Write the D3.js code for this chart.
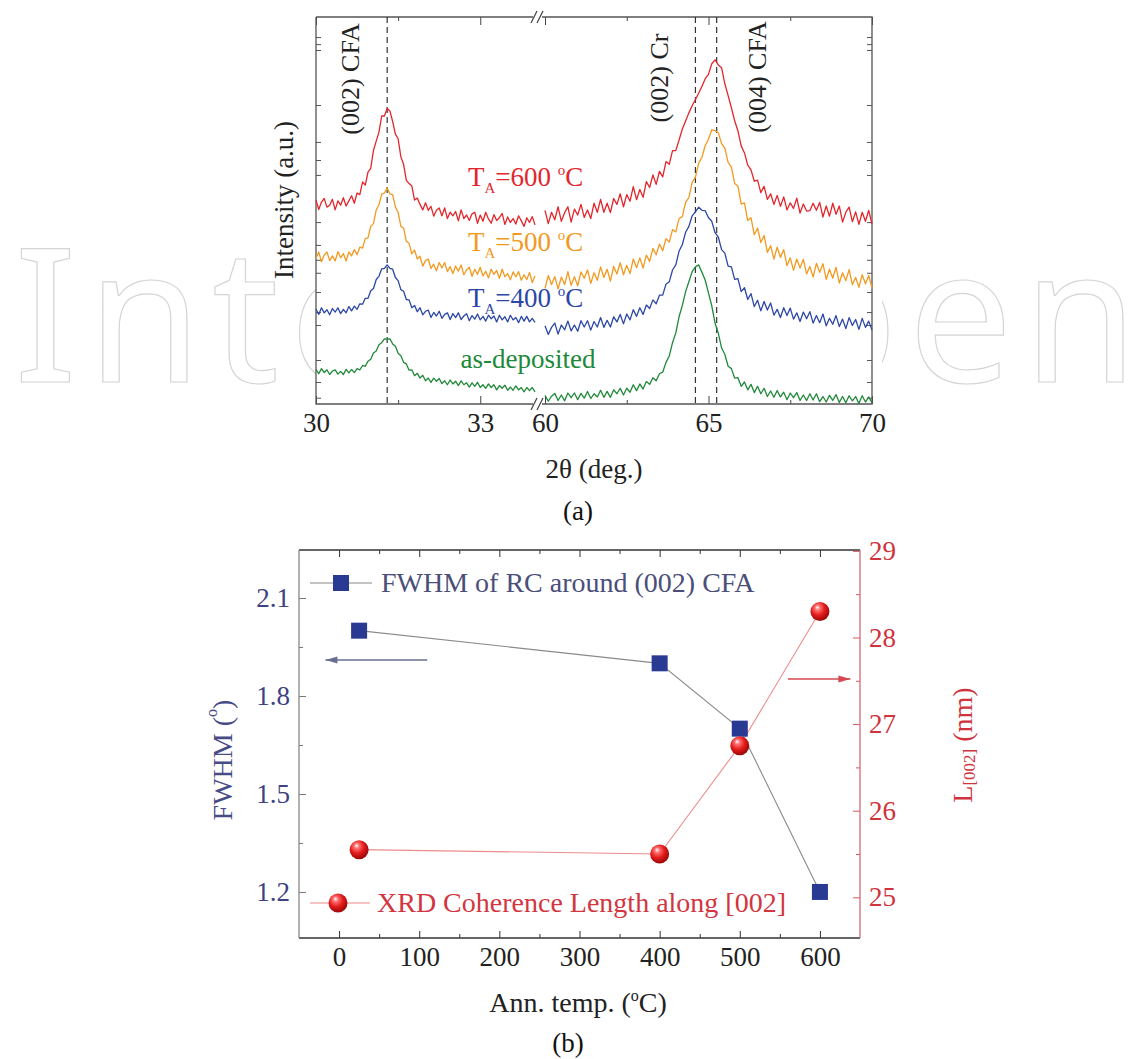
<!DOCTYPE html>
<html><head><meta charset="utf-8">
<script src="https://cdn.jsdelivr.net/npm/d3@7/dist/d3.min.js"></script>
<style>html,body{margin:0;padding:0;background:#fff;} svg{display:block;}</style>
</head><body>
<svg id="fig" width="1138" height="1059"></svg>
<script>
// ================= DATA (a): XRD scans (intensity, a.u.) =================
const twoThetaLow  = d3.range(81).map(i => Math.round((30 + i * 0.05) * 100) / 100);   // 30.00 .. 34.00
const twoThetaHigh = d3.range(101).map(i => Math.round((60 + i * 0.1) * 10) / 10);     // 60.0 .. 70.0

const t600Low = [53.4,51.0,52.9,53.8,51.6,52.1,53.6,50.9,53.2,52.1,
  54.0,51.9,53.2,54.5,52.6,55.2,54.8,58.0,57.2,60.5,
  61.5,66.1,68.4,70.7,74.8,74.8,76.7,76.1,73.4,70.2,
  69.0,64.4,62.5,58.4,57.6,57.0,53.4,53.9,52.3,50.9,
  52.7,50.8,51.8,49.3,50.8,51.4,49.4,51.4,48.7,50.3,
  49.4,50.5,48.1,50.9,48.7,49.6,48.2,49.9,50.3,47.5,
  49.6,48.0,50.3,48.6,47.5,49.7,48.2,48.9,50.0,47.2,
  49.1,47.7,48.7,47.3,49.4,48.1,46.7,48.9,47.7,49.2,
  47.1];
const t600High = [50.8,47.4,50.3,48.4,51.7,48.0,50.2,51.7,47.8,51.1,
  49.6,52.3,49.0,50.9,48.7,52.6,50.3,53.6,50.3,52.6,
  50.2,53.8,52.3,55.0,51.7,54.8,53.1,56.8,53.5,56.1,
  54.1,58.1,56.6,59.8,57.4,60.7,59.3,63.2,62.5,66.0,
  66.0,68.7,71.5,73.5,75.6,77.4,79.0,80.6,82.4,84.3,
  85.4,88.1,89.1,87.8,87.1,83.0,80.0,76.9,73.6,71.0,
  67.2,65.4,62.3,61.1,58.2,58.5,55.3,56.9,53.6,55.0,
  52.3,54.6,51.8,54.2,50.9,52.7,51.3,53.9,50.1,52.4,
  50.6,50.7,52.6,50.8,52.8,49.1,51.9,49.3,52.6,49.8,
  51.9,47.8,50.3,51.6,47.9,50.4,47.2,50.3,48.0,50.8,
  47.3];

const t500Low = [38.6,40.2,37.7,39.4,40.2,38.0,39.2,37.9,40.3,38.7,
  39.8,37.9,40.2,39.2,40.8,39.5,41.4,41.2,43.6,43.8,
  46.7,47.4,50.9,52.2,54.9,55.2,56.5,55.0,54.8,51.6,
  50.3,46.7,46.3,42.9,42.4,39.7,40.7,38.4,39.1,36.6,
  38.0,38.4,36.0,37.1,35.4,37.5,36.1,37.5,35.2,36.5,
  34.7,36.6,35.3,36.9,34.4,35.6,36.3,34.0,35.8,34.5,
  36.3,34.1,35.3,33.6,35.8,34.5,35.5,33.5,35.8,33.9,
  34.7,33.1,35.1,33.9,35.2,33.0,34.4,33.2,35.0,32.4,
  34.1];
const t500High = [30.9,34.2,31.9,33.9,30.8,33.8,31.9,35.2,31.7,33.9,
  31.6,35.1,33.5,35.6,32.2,34.9,33.0,36.4,33.7,35.8,
  32.8,36.5,34.6,37.5,34.4,36.8,34.7,38.4,36.2,38.7,
  36.1,39.4,37.8,41.1,39.5,42.2,40.5,43.6,42.7,45.9,
  45.3,48.7,49.2,52.8,54.0,57.9,59.2,62.8,64.3,67.3,
  68.9,71.3,71.1,70.5,67.8,66.6,63.0,61.8,57.6,57.0,
  52.4,52.7,48.2,48.9,44.6,46.3,42.6,44.4,40.1,41.8,
  38.4,41.4,38.8,40.8,36.7,38.7,35.5,38.4,36.1,38.3,
  34.6,36.5,33.8,37.3,35.0,37.2,33.2,35.8,33.5,36.3,
  32.3,34.9,32.9,35.7,31.9,33.7,31.2,34.4,32.1,34.2,
  31.0];

const t400Low = [25.6,24.3,26.0,24.7,25.5,24.2,25.8,24.9,26.0,24.5,
  25.6,24.7,26.3,25.2,26.4,25.6,27.0,26.9,28.4,28.4,
  30.3,30.9,33.2,34.0,35.9,36.0,36.9,36.0,35.8,33.7,
  32.9,30.6,30.2,28.1,28.0,26.0,26.6,25.0,26.0,24.2,
  25.1,25.4,23.5,24.8,23.9,25.1,23.3,24.3,24.7,23.0,
  24.5,23.5,24.7,23.0,23.9,24.5,22.7,24.0,23.1,24.4,
  22.9,23.8,22.6,24.1,23.2,23.9,22.4,24.1,22.9,23.7,
  22.4,24.1,22.9,23.5,22.2,23.8,22.6,23.8,22.4,23.3,
  22.3];
const t400High = [21.4,19.2,21.0,22.1,19.3,21.6,20.4,22.6,20.1,21.6,
  20.0,22.7,21.1,22.7,20.3,22.5,21.1,23.5,21.0,22.8,
  21.1,23.7,22.4,24.3,21.9,24.4,22.9,25.5,23.8,26.0,
  24.3,26.7,25.8,28.0,27.0,29.2,29.2,32.0,32.6,35.6,
  36.9,40.4,42.1,45.2,46.7,49.4,50.4,51.6,50.8,50.7,
  48.9,48.0,45.1,44.0,40.8,39.9,36.6,36.4,33.2,33.4,
  30.1,31.1,28.1,29.6,26.3,27.9,25.2,27.6,25.4,27.2,
  24.1,25.6,23.5,26.0,24.0,25.9,23.1,24.7,22.5,24.9,
  23.2,25.0,22.1,24.0,22.2,24.4,21.4,23.3,21.8,24.0,
  21.2,23.1,20.7,23.5,21.5,23.0,20.5,23.3,21.0,22.6,
  20.3];

const asDepLow = [10.3,9.2,10.5,9.5,10.2,9.0,9.9,10.2,9.1,9.8,
  9.0,10.3,9.4,10.3,9.5,10.5,10.2,11.3,11.1,12.4,
  12.9,14.5,15.0,16.6,17.1,18.1,18.0,18.1,16.8,16.2,
  14.4,13.8,12.1,11.7,10.1,10.2,8.7,9.3,8.1,8.8,
  7.4,8.1,7.0,8.1,7.3,8.0,6.7,7.4,6.4,7.6,
  6.6,7.3,6.2,7.4,6.4,6.9,5.8,6.9,6.0,7.0,
  5.7,6.4,5.5,6.6,5.7,6.4,5.1,6.2,5.5,6.3,
  5.0,5.8,5.0,6.1,5.1,5.7,4.6,5.7,4.9,5.7,
  4.6];
const asDepHigh = [3.7,2.2,3.5,4.2,2.4,3.8,2.3,4.3,3.1,4.3,
  2.6,4.2,3.0,4.7,2.9,4.1,3.3,5.0,3.2,4.7,
  3.2,5.1,4.1,5.5,3.8,5.5,4.5,6.4,4.9,6.6,
  5.3,7.2,6.5,8.2,7.4,9.2,9.6,12.1,13.7,17.1,
  19.6,23.7,26.6,30.1,32.6,35.2,36.4,36.9,35.0,33.0,
  29.7,26.5,22.1,19.5,15.8,14.1,11.1,10.5,8.1,8.2,
  6.0,7.1,5.1,6.5,4.4,6.0,4.1,5.5,3.4,4.8,
  3.2,4.9,3.3,4.5,2.6,4.3,3.1,4.4,2.4,3.8,
  2.4,4.1,2.5,4.1,2.1,3.4,2.0,3.7,2.4,3.9,
  1.9,3.4,1.8,3.6,2.3,3.4,1.6,3.6,2.0,3.3,
  1.8];

const xTicksLow = [30, 33], xMinorLow = [31.5];
const xTicksHigh = [60, 65, 70], xMinorHigh = [62.5, 67.5];
const intensityTicks = [94.9, 93.1, 91.6, 77.6, 68.2, 63.6, 59.8, 47.8, 42.0, 38.2, 34.9, 30.0, 24.9, 21.6, 12.7, 7.1, 3.1];
const peakPositions = [31.3, 64.6, 65.25];
const peakLabels = ["(002) CFA", "(002) Cr", "(004) CFA"];
const annealLabels = ["600", "500", "400"];

// ================= DATA (b) =================
const annealTemp = [25, 400, 500, 600];
const fwhm = [2.0, 1.9, 1.7, 1.2];
const coherenceLength = [25.55, 25.5, 26.75, 28.3];
const tempTicks = [0, 100, 200, 300, 400, 500, 600], tempMinor = [50, 150, 250, 350, 450, 550];
const fwhmTicks = [1.2, 1.5, 1.8, 2.1], fwhmMinor = [1.35, 1.65, 1.95];
const lenTicks = [25, 26, 27, 28, 29], lenMinor = [25.5, 26.5, 27.5, 28.5];
const legendLabels = ["FWHM of RC around (002) CFA", "XRD Coherence Length along [002]"];

// ================= DRAWING =================
const FONT = '"Liberation Serif","Times New Roman",Times,serif';
const RED = "#e2262c", ORANGE = "#f29a20", BLUE = "#2c47a6", GREEN = "#20893a";
const svg = d3.select("#fig");
const defs = svg.append("defs");

// watermark (outlined letters)
svg.append("text").attr("x", 14).attr("y", 382).text("IntechOpen")
  .attr("font-family", '"Noto Sans","DejaVu Sans",sans-serif').attr("font-weight", 400)
  .attr("font-size", 186).attr("textLength", 1124).attr("lengthAdjust", "spacing")
  .attr("fill", "none").attr("stroke", "#d5d5d5").attr("stroke-width", 1.2);

// ---------- chart (a) ----------
const A = { l: 316, r: 872, t: 17, b: 404, bl: 535, br: 545 };
const xLow = d3.scaleLinear().domain([30, 34]).range([A.l, A.bl]);
const xHigh = d3.scaleLinear().domain([60, 70]).range([A.br, A.r]);
const yInt = d3.scaleLinear().domain([1.5, 100]).range([A.b, A.t]);

svg.append("rect").attr("x", A.l).attr("y", A.t).attr("width", A.r - A.l + 10).attr("height", A.b - A.t + 40).attr("fill", "#fff");

const gA = svg.append("g");
function styleAxis(g, color) {
  g.select(".domain").remove();
  g.selectAll("line").attr("stroke", color).attr("stroke-width", 1);
  g.selectAll("text").attr("font-family", FONT).attr("font-size", 27).attr("fill", "#222");
}
[[xLow, xTicksLow, xMinorLow], [xHigh, xTicksHigh, xMinorHigh]].forEach(([sc, maj, min]) => {
  styleAxis(gA.append("g").attr("transform", `translate(0,${A.b})`)
    .call(d3.axisBottom(sc).tickValues(maj).tickSize(-8).tickPadding(9).tickFormat(d3.format("d"))), "#444");
  styleAxis(gA.append("g").attr("transform", `translate(0,${A.b})`)
    .call(d3.axisBottom(sc).tickValues(min).tickSize(-4).tickFormat("")), "#444");
  styleAxis(gA.append("g").attr("transform", `translate(0,${A.t})`)
    .call(d3.axisTop(sc).tickValues(maj).tickSize(-8).tickFormat("")), "#444");
  styleAxis(gA.append("g").attr("transform", `translate(0,${A.t})`)
    .call(d3.axisTop(sc).tickValues(min).tickSize(-4).tickFormat("")), "#444");
});
styleAxis(gA.append("g").attr("transform", `translate(${A.l},0)`)
  .call(d3.axisLeft(yInt).tickValues(intensityTicks).tickSize(-5).tickFormat("")), "#555");
styleAxis(gA.append("g").attr("transform", `translate(${A.r},0)`)
  .call(d3.axisRight(yInt).tickValues(intensityTicks).tickSize(-5).tickFormat("")), "#555");

// frame with axis break
const fr = d3.path();
fr.moveTo(A.l, A.t); fr.lineTo(A.l, A.b); fr.lineTo(A.bl - 2, A.b);
fr.moveTo(A.br - 3, A.b); fr.lineTo(A.r, A.b); fr.lineTo(A.r, A.t); fr.lineTo(A.br - 3, A.t);
fr.moveTo(A.bl - 2, A.t); fr.lineTo(A.l, A.t);
gA.append("path").attr("d", fr.toString()).attr("fill", "none").attr("stroke", "#555").attr("stroke-width", 1.3);
[A.t, A.b].forEach(yy => {
  [A.bl - 4, A.bl + 2].forEach(xx => {
    gA.append("line").attr("x1", xx).attr("y1", yy + 6).attr("x2", xx + 6).attr("y2", yy - 6)
      .attr("stroke", "#444").attr("stroke-width", 1.3);
  });
});

// dashed reference lines
peakPositions.forEach((p, i) => {
  const xx = i === 0 ? xLow(p) : xHigh(p);
  gA.append("line").attr("x1", xx).attr("x2", xx).attr("y1", A.t).attr("y2", A.b)
    .attr("stroke", "#333").attr("stroke-width", 1.2).attr("stroke-dasharray", "6,4");
});

// scans
const seriesA = [
  { low: asDepLow, high: asDepHigh, color: GREEN },
  { low: t400Low, high: t400High, color: BLUE },
  { low: t500Low, high: t500High, color: ORANGE },
  { low: t600Low, high: t600High, color: RED }
];
seriesA.forEach(s => {
  gA.append("path").datum(d3.zip(twoThetaLow, s.low))
    .attr("d", d3.line().x(d => xLow(d[0])).y(d => yInt(d[1])))
    .attr("fill", "none").attr("stroke", s.color).attr("stroke-width", 1.3).attr("stroke-linejoin", "round");
  gA.append("path").datum(d3.zip(twoThetaHigh, s.high))
    .attr("d", d3.line().x(d => xHigh(d[0])).y(d => yInt(d[1])))
    .attr("fill", "none").attr("stroke", s.color).attr("stroke-width", 1.3).attr("stroke-linejoin", "round");
});

// peak labels
const peakLabelPos = [[350, 79], [659, 78], [757, 77]];
peakLabels.forEach((t, i) => {
  gA.append("text").attr("transform", `translate(${peakLabelPos[i][0]},${peakLabelPos[i][1]}) rotate(-90)`)
    .attr("text-anchor", "middle").attr("dominant-baseline", "central")
    .attr("font-family", FONT).attr("font-size", 26).attr("fill", "#222").text(t);
});

// curve labels
const tColors = [RED, ORANGE, BLUE];
const tY = [186, 251, 307];
annealLabels.forEach((v, i) => {
  const t = gA.append("text").attr("x", 468).attr("y", tY[i]).attr("font-family", FONT)
    .attr("font-size", 27).attr("fill", tColors[i]);
  t.append("tspan").text("T");
  t.append("tspan").attr("font-size", 15).attr("dy", 7).text("A");
  t.append("tspan").attr("dy", -7).text("=" + v + " ");
  t.append("tspan").attr("font-size", 15).attr("dy", -11).text("o");
  t.append("tspan").attr("dy", 11).text("C");
});
gA.append("text").attr("x", 528).attr("y", 368).attr("text-anchor", "middle").attr("font-family", FONT)
  .attr("font-size", 27).attr("fill", GREEN).text("as-deposited");

// axis titles
gA.append("text").attr("transform", "translate(284,200) rotate(-90)").attr("text-anchor", "middle")
  .attr("dominant-baseline", "central").attr("font-family", FONT).attr("font-size", 27).attr("fill", "#222")
  .text("Intensity (a.u.)");
gA.append("text").attr("x", 594).attr("y", 478).attr("text-anchor", "middle").attr("font-family", FONT)
  .attr("font-size", 27).attr("fill", "#222").text("2θ (deg.)");
svg.append("text").attr("x", 578).attr("y", 520).attr("text-anchor", "middle").attr("font-family", FONT)
  .attr("font-size", 27).attr("fill", "#111").text("(a)");

// ---------- chart (b) ----------
const B = { l: 299, r: 860, t: 550, b: 938 };
const xT = d3.scaleLinear().domain([-50, 650]).range([B.l, B.r]);
const yF = d3.scaleLinear().domain([1.059, 2.247]).range([B.b, B.t]);
const yL = d3.scaleLinear().domain([24.53, 29.01]).range([B.b, B.t]);
const gB = svg.append("g");
const NAVY = "#3d4283", LRED = "#cf333c";

function styleB(g, lineColor, textColor) {
  g.select(".domain").remove();
  g.selectAll("line").attr("stroke", lineColor).attr("stroke-width", 1);
  g.selectAll("text").attr("font-family", FONT).attr("font-size", 27).attr("fill", textColor);
}
styleB(gB.append("g").attr("transform", `translate(0,${B.b})`)
  .call(d3.axisBottom(xT).tickValues(tempTicks).tickSize(-7).tickPadding(9).tickFormat(d3.format("d"))), "#333", "#222");
styleB(gB.append("g").attr("transform", `translate(0,${B.b})`)
  .call(d3.axisBottom(xT).tickValues(tempMinor).tickSize(-4).tickFormat("")), "#333", "#222");
styleB(gB.append("g").attr("transform", `translate(0,${B.t})`)
  .call(d3.axisTop(xT).tickValues(tempTicks).tickSize(-7).tickFormat("")), "#333", "#222");
styleB(gB.append("g").attr("transform", `translate(0,${B.t})`)
  .call(d3.axisTop(xT).tickValues(tempMinor).tickSize(-4).tickFormat("")), "#333", "#222");
styleB(gB.append("g").attr("transform", `translate(${B.l},0)`)
  .call(d3.axisLeft(yF).tickValues(fwhmTicks).tickSize(-7).tickPadding(9).tickFormat(d3.format(".1f"))), "#777", NAVY);
styleB(gB.append("g").attr("transform", `translate(${B.l},0)`)
  .call(d3.axisLeft(yF).tickValues(fwhmMinor).tickSize(-4).tickFormat("")), "#777", NAVY);
styleB(gB.append("g").attr("transform", `translate(${B.r},0)`)
  .call(d3.axisRight(yL).tickValues(lenTicks).tickSize(-7).tickPadding(9).tickFormat(d3.format("d"))), "#d05a60", LRED);
styleB(gB.append("g").attr("transform", `translate(${B.r},0)`)
  .call(d3.axisRight(yL).tickValues(lenMinor).tickSize(-4).tickFormat("")), "#d05a60", LRED);

gB.append("line").attr("x1", B.l).attr("x2", B.r).attr("y1", B.t).attr("y2", B.t).attr("stroke", "#333").attr("stroke-width", 1.3);
gB.append("line").attr("x1", B.l).attr("x2", B.r).attr("y1", B.b).attr("y2", B.b).attr("stroke", "#333").attr("stroke-width", 1.3);
gB.append("line").attr("x1", B.l).attr("x2", B.l).attr("y1", B.t).attr("y2", B.b).attr("stroke", "#888").attr("stroke-width", 1.3);
gB.append("line").attr("x1", B.r).attr("x2", B.r).attr("y1", B.t).attr("y2", B.b).attr("stroke", "#d66a70").attr("stroke-width", 1.3);

// ball gradient
const rg = defs.append("radialGradient").attr("id", "ball").attr("cx", "42%").attr("cy", "38%").attr("r", "62%")
  .attr("fx", "36%").attr("fy", "28%");
rg.append("stop").attr("offset", "0%").attr("stop-color", "#ffffff");
rg.append("stop").attr("offset", "22%").attr("stop-color", "#ff7070");
rg.append("stop").attr("offset", "58%").attr("stop-color", "#e41c1c");
rg.append("stop").attr("offset", "100%").attr("stop-color", "#9a0808");

// series lines
const fwData = d3.zip(annealTemp, fwhm), lnData = d3.zip(annealTemp, coherenceLength);
gB.append("path").datum(lnData).attr("d", d3.line().x(d => xT(d[0])).y(d => yL(d[1])))
  .attr("fill", "none").attr("stroke", "#ec8c8c").attr("stroke-width", 1.1);
gB.append("path").datum(fwData).attr("d", d3.line().x(d => xT(d[0])).y(d => yF(d[1])))
  .attr("fill", "none").attr("stroke", "#8a8a8a").attr("stroke-width", 1.1);
gB.selectAll(".sq").data(fwData).enter().append("rect")
  .attr("x", d => xT(d[0]) - 8).attr("y", d => yF(d[1]) - 8).attr("width", 16).attr("height", 16).attr("fill", "#283a92");
gB.selectAll(".bl").data(lnData).enter().append("circle")
  .attr("cx", d => xT(d[0])).attr("cy", d => yL(d[1])).attr("r", 9.5).attr("fill", "url(#ball)");

// arrows
function arrow(x1, y1, x2, y2, color) {
  gB.append("line").attr("x1", x1).attr("y1", y1).attr("x2", x2).attr("y2", y2).attr("stroke", color).attr("stroke-width", 1.6);
  const dir = Math.sign(x2 - x1);
  gB.append("path").attr("d", `M${x2},${y2} L${x2 - dir * 12},${y2 - 3.5} L${x2 - dir * 12},${y2 + 3.5} Z`).attr("fill", color);
}
arrow(xT(110), yF(1.91), xT(-17), yF(1.91), "#6a6e90");
arrow(xT(560), yL(27.52), xT(638), yL(27.52), "#d8474f");

// legend
gB.append("line").attr("x1", 310).attr("x2", 372).attr("y1", 583).attr("y2", 583).attr("stroke", "#888").attr("stroke-width", 1.1);
gB.append("rect").attr("x", 333).attr("y", 575).attr("width", 16).attr("height", 16).attr("fill", "#283a92");
gB.append("text").attr("x", 381).attr("y", 592).attr("font-family", FONT).attr("font-size", 28).attr("fill", "#4a4e78").text(legendLabels[0]);
gB.append("line").attr("x1", 310).attr("x2", 370).attr("y1", 903).attr("y2", 903).attr("stroke", "#ec8c8c").attr("stroke-width", 1.1);
gB.append("circle").attr("cx", 338).attr("cy", 903).attr("r", 9.5).attr("fill", "url(#ball)");
gB.append("text").attr("x", 377).attr("y", 912).attr("font-family", FONT).attr("font-size", 28).attr("fill", "#d2363f").text(legendLabels[1]);

// titles
const lt = gB.append("text").attr("transform", "translate(222,760) rotate(-90)").attr("text-anchor", "middle")
  .attr("dominant-baseline", "central").attr("font-family", FONT).attr("font-size", 28).attr("fill", "#474c86");
lt.append("tspan").text("FWHM (");
lt.append("tspan").attr("font-size", 16).attr("dy", -11).text("o");
lt.append("tspan").attr("dy", 11).text(")");
const rt = gB.append("text").attr("transform", "translate(962,745) rotate(-90)").attr("text-anchor", "middle")
  .attr("dominant-baseline", "central").attr("font-family", FONT).attr("font-size", 28).attr("fill", LRED);
rt.append("tspan").text("L");
rt.append("tspan").attr("font-size", 17).attr("dy", 7).text("[002]");
rt.append("tspan").attr("dy", -7).text(" (nm)");
const xt = gB.append("text").attr("x", 578).attr("y", 1012).attr("text-anchor", "middle").attr("font-family", FONT)
  .attr("font-size", 28).attr("fill", "#222");
xt.append("tspan").text("Ann. temp. (");
xt.append("tspan").attr("font-size", 16).attr("dy", -11).text("o");
xt.append("tspan").attr("dy", 11).text("C)");
svg.append("text").attr("x", 568).attr("y", 1052).attr("text-anchor", "middle").attr("font-family", FONT)
  .attr("font-size", 27).attr("fill", "#111").text("(b)");
</script>
</body></html>
